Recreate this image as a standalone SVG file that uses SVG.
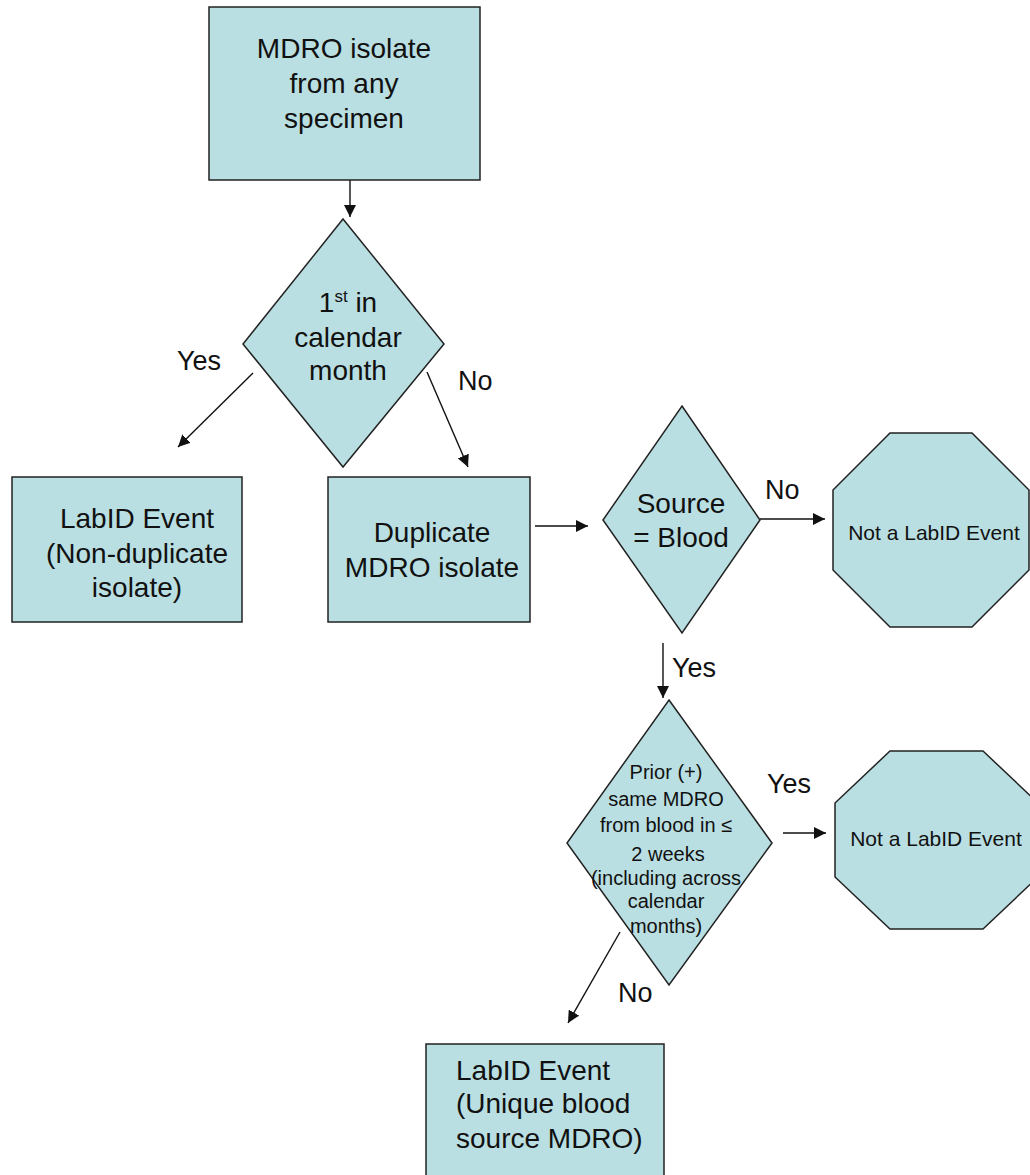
<svg xmlns="http://www.w3.org/2000/svg" width="1030" height="1175" viewBox="0 0 1030 1175">
<style>
.n{fill:#badfe2;stroke:#222;stroke-width:1.5}
.t{font-family:"Liberation Sans",Arial,sans-serif;font-size:28px;fill:#111;text-anchor:middle}
.s{font-family:"Liberation Sans",Arial,sans-serif;font-size:20px;fill:#111;text-anchor:middle}
.o{font-family:"Liberation Sans",Arial,sans-serif;font-size:21px;fill:#111;text-anchor:middle}
.l{font-family:"Liberation Sans",Arial,sans-serif;font-size:27px;fill:#111}
.c{stroke:#111;stroke-width:1.4;fill:none;marker-end:url(#ah)}
</style>
<defs>
<marker id="ah" markerUnits="userSpaceOnUse" markerWidth="13" markerHeight="12" refX="12" refY="6" orient="auto">
<path d="M0,0 L12,6 L0,12 Z" fill="#111"/>
</marker>
</defs>
<rect width="1030" height="1175" fill="#fff"/>

<g id="connectors">
<line class="c" x1="350" y1="180" x2="350" y2="217"/>
<line class="c" x1="253" y1="373" x2="178" y2="447"/>
<line class="c" x1="427" y1="372" x2="468" y2="467"/>
<line class="c" x1="535" y1="526" x2="588" y2="526"/>
<line class="c" x1="760" y1="519" x2="825" y2="519"/>
<line class="c" x1="663" y1="643" x2="663" y2="698"/>
<line class="c" x1="783" y1="833" x2="826" y2="833"/>
<line class="c" x1="620" y1="932" x2="568" y2="1023"/>
<text class="l" x="177" y="370">Yes</text>
<text class="l" x="458" y="390">No</text>
<text class="l" x="765" y="499">No</text>
<text class="l" x="672" y="677">Yes</text>
<text class="l" x="767" y="793">Yes</text>
<text class="l" x="618" y="1002">No</text>
</g>

<g id="start">
<rect class="n" x="209" y="7" width="271" height="173"/>
<text class="t" x="344" y="58">MDRO isolate</text>
<text class="t" x="344" y="93">from any</text>
<text class="t" x="344" y="128">specimen</text>
</g>

<g id="first-in-month">
<polygon class="n" points="343,219 444,344 343,467 243,344"/>
<text class="t" x="348" y="312"><tspan>1</tspan><tspan font-size="17" dy="-10">st</tspan><tspan dy="10"> in</tspan></text>
<text class="t" x="348" y="347">calendar</text>
<text class="t" x="348" y="380">month</text>
</g>

<g id="labid-nondup">
<rect class="n" x="12" y="477" width="230" height="145"/>
<text class="t" x="137" y="528">LabID Event</text>
<text class="t" x="137" y="563">(Non-duplicate</text>
<text class="t" x="137" y="597">isolate)</text>
</g>

<g id="duplicate">
<rect class="n" x="328" y="477" width="202" height="145"/>
<text class="t" x="432" y="542">Duplicate</text>
<text class="t" x="432" y="577">MDRO isolate</text>
</g>

<g id="source-blood">
<polygon class="n" points="682,406 760,520 682,633 603,520"/>
<text class="t" x="681" y="513">Source</text>
<text class="t" x="681" y="547">= Blood</text>
</g>

<g id="not-labid-1">
<polygon class="n" points="890,433 972,433 1029,490 1029,570 972,627 890,627 833,570 833,490"/>
<text class="o" x="934" y="540">Not a LabID Event</text>
</g>

<g id="prior-blood">
<polygon class="n" points="669,700 772,843 669,985 567,843"/>
<text class="s" x="666" y="779">Prior (+)</text>
<text class="s" x="666" y="806">same MDRO</text>
<text class="s" x="666" y="832">from blood in ≤</text>
<text class="s" x="668" y="861">2 weeks</text>
<text class="s" x="666" y="885">(including across</text>
<text class="s" x="666" y="908">calendar</text>
<text class="s" x="666" y="933">months)</text>
</g>

<g id="not-labid-2">
<polygon class="n" points="890,751 983,751 1038,803 1038,877 983,929 890,929 835,877 835,803"/>
<text class="o" x="936" y="846">Not a LabID Event</text>
</g>

<g id="labid-unique">
<rect class="n" x="426" y="1044" width="238" height="140"/>
<text class="t" x="456" y="1080" text-anchor="start" style="text-anchor:start">LabID Event</text>
<text class="t" x="456" y="1113" style="text-anchor:start">(Unique blood</text>
<text class="t" x="456" y="1148" style="text-anchor:start">source MDRO)</text>
</g>
</svg>
